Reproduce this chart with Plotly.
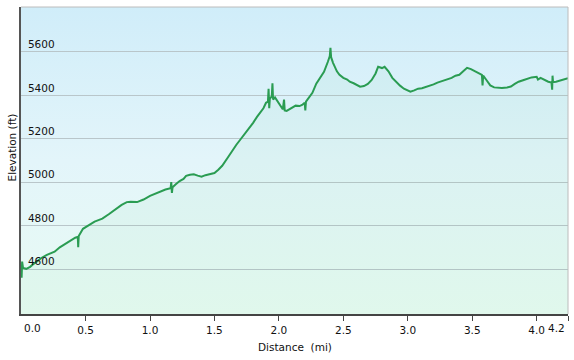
import base64
import plotly.graph_objects as go

# Elevation profile (distance in miles, elevation in feet)
distance_mi = [
    0.000, 0.004, 0.008, 0.015, 0.04, 0.07, 0.10, 0.13, 0.16, 0.20, 0.26, 0.30, 0.34, 0.38,
    0.42, 0.44, 0.443, 0.447, 0.48, 0.52, 0.55, 0.57, 0.60, 0.63, 0.68, 0.73, 0.78, 0.82,
    0.85, 0.90, 0.95, 1.00, 1.05, 1.08, 1.12, 1.16, 1.165, 1.17, 1.175, 1.20, 1.23, 1.26,
    1.28, 1.31, 1.34, 1.37, 1.40, 1.43, 1.47, 1.50, 1.53, 1.56, 1.60, 1.64, 1.67, 1.70,
    1.75, 1.80, 1.83, 1.85, 1.88, 1.90, 1.915, 1.92, 1.925, 1.93, 1.945, 1.95, 1.955, 1.97,
    1.99, 2.01, 2.03, 2.04, 2.045, 2.06, 2.08, 2.10, 2.13, 2.16, 2.18, 2.20, 2.205, 2.21,
    2.23, 2.26, 2.29, 2.32, 2.35, 2.38, 2.395, 2.40, 2.405, 2.42, 2.45, 2.47, 2.50, 2.53,
    2.55, 2.58, 2.61, 2.63, 2.66, 2.69, 2.72, 2.75, 2.77, 2.80, 2.82, 2.85, 2.88, 2.91,
    2.94, 2.97, 3.00, 3.02, 3.05, 3.08, 3.11, 3.14, 3.17, 3.20, 3.23, 3.26, 3.29, 3.31,
    3.34, 3.37, 3.40, 3.43, 3.46, 3.49, 3.52, 3.55, 3.575, 3.58, 3.585, 3.61, 3.64, 3.67,
    3.70, 3.73, 3.77, 3.80, 3.83, 3.86, 3.90, 3.93, 3.96, 4.00, 4.01, 4.03, 4.06, 4.09,
    4.115, 4.12, 4.123, 4.127, 4.15, 4.18, 4.21, 4.243,
]
elevation_ft = [
    4611, 4560, 4634, 4605, 4601, 4610, 4625, 4640, 4652, 4665, 4680, 4700, 4716, 4732,
    4744, 4748, 4700, 4752, 4785, 4800, 4813, 4818, 4825, 4832, 4852, 4875, 4895, 4908,
    4910, 4908, 4920, 4937, 4950, 4958, 4966, 4972, 5000, 4950, 4976, 4990, 5005, 5015,
    5029, 5034, 5036, 5030, 5025, 5032, 5036, 5042, 5057, 5075, 5110, 5149, 5172, 5195,
    5232, 5273, 5300, 5315, 5340, 5365, 5370, 5430, 5340, 5385, 5395, 5455, 5380, 5390,
    5370, 5350, 5335, 5380, 5330, 5328, 5335, 5342, 5352, 5350, 5355, 5365, 5330, 5370,
    5385, 5411, 5453, 5480, 5508, 5554, 5580, 5618, 5575, 5549, 5510, 5494, 5480, 5472,
    5462, 5455, 5444, 5439, 5442, 5452, 5470, 5500, 5531, 5525, 5531, 5510, 5480, 5460,
    5444, 5430, 5420, 5416, 5422, 5430, 5432, 5437, 5444, 5450, 5458, 5464, 5470, 5474,
    5480, 5490, 5494, 5510, 5526, 5520, 5510, 5500, 5494, 5445, 5490, 5470, 5445, 5436,
    5434, 5433, 5436, 5440, 5452, 5462, 5470, 5476, 5482, 5485, 5472, 5480, 5470, 5462,
    5458, 5425, 5490, 5460, 5462, 5468, 5472, 5478,
]

x_start = 0.0
x_end = 4.243
x_tick_vals = [x_start, 0.5, 1.0, 1.5, 2.0, 2.5, 3.0, 3.5, 4.0, x_end]
x_tick_text = ["", "0.5", "1.0", "1.5", "2.0", "2.5", "3.0", "3.5", "4.0", ""]
x_start_label = "0.0"
x_end_label = "4.2"
y_tick_vals = [4600, 4800, 5000, 5200, 5400, 5600]
y_tick_text = ["4600", "4800", "5000", "5200", "5400", "5600"]

FONT = "DejaVu Sans, Verdana, sans-serif"

svg = (
    '<svg xmlns="http://www.w3.org/2000/svg" width="100" height="100" preserveAspectRatio="none">'
    '<defs><linearGradient id="g" x1="0" y1="0" x2="0" y2="1">'
    '<stop offset="0" stop-color="#d0edf9"/>'
    '<stop offset="0.5" stop-color="#e3f5fa"/>'
    '<stop offset="1" stop-color="#e8fbf3"/>'
    '</linearGradient></defs>'
    '<rect width="100" height="100" fill="url(#g)"/></svg>'
)
bg_uri = "data:image/svg+xml;base64," + base64.b64encode(svg.encode()).decode()

fig = go.Figure()
fig.add_trace(go.Scatter(
    x=distance_mi, y=elevation_ft, mode="lines",
    line=dict(color="#2a9c52", width=2),
    fill="tozeroy", fillcolor="rgba(70,200,120,0.05)",
    hoverinfo="x+y",
))

tick_font = dict(family=FONT, size=10.5, color="#111")

fig.update_layout(
    width=574, height=360,
    margin=dict(l=21, r=6, t=7, b=46, autoexpand=False),
    paper_bgcolor="white", plot_bgcolor="rgba(0,0,0,0)",
    showlegend=False,
    font=tick_font,
    images=[dict(source=bg_uri, xref="paper", yref="paper", x=0, y=1,
                 sizex=1, sizey=1, sizing="stretch", layer="below")],
    xaxis=dict(
        range=[-0.0008, x_end], tickvals=x_tick_vals, ticktext=x_tick_text,
        ticks="outside", ticklen=5, tickcolor="#444", tickwidth=1,
        showgrid=False, zeroline=False, automargin=False,
        ticklabeloverflow="allow",
        showline=True, linecolor="#444", linewidth=2, mirror=False,
        tickfont=tick_font,
    ),
    yaxis=dict(
        range=[4393, 5806], tickvals=y_tick_vals, ticktext=y_tick_text,
        ticklabelposition="inside top", ticks="", automargin=False,
        ticklabelstandoff=5,
        showgrid=True, gridcolor="#b9c6ca", gridwidth=1,
        zeroline=False, showline=True, linecolor="#555", linewidth=2,
        tickfont=tick_font,
    ),
    shapes=[
        dict(type="line", xref="paper", yref="paper", x0=0, x1=1, y0=1, y1=1,
             line=dict(color="#bcbcbc", width=1)),
        dict(type="line", xref="paper", yref="paper", x0=1, x1=1, y0=0, y1=1,
             line=dict(color="#bcbcbc", width=1)),
    ],
    annotations=[
        dict(text=x_start_label, xref="x", yref="paper", x=x_start, y=0,
             yshift=-14, xshift=1, showarrow=False, xanchor="left", yanchor="middle",
             font=tick_font),
        dict(text=x_end_label, xref="x", yref="paper", x=x_end, y=0,
             yshift=-14, xshift=-1, showarrow=False, xanchor="right", yanchor="middle",
             font=tick_font),
        dict(text="Distance\u00a0 (mi)", xref="paper", yref="paper", x=0.5, y=0,
             yshift=-33, showarrow=False, xanchor="center", yanchor="middle",
             font=tick_font),
        dict(text="Elevation (ft)", xref="paper", yref="paper", x=0, y=0.5,
             xshift=-10, yshift=13, textangle=-90, showarrow=False,
             xanchor="center", yanchor="middle",
             font=tick_font),
    ],
)

fig.write_html(
    "out.html",
    config={"displayModeBar": False},
    post_script="document.body.style.margin='0';document.body.style.padding='0';",
)
